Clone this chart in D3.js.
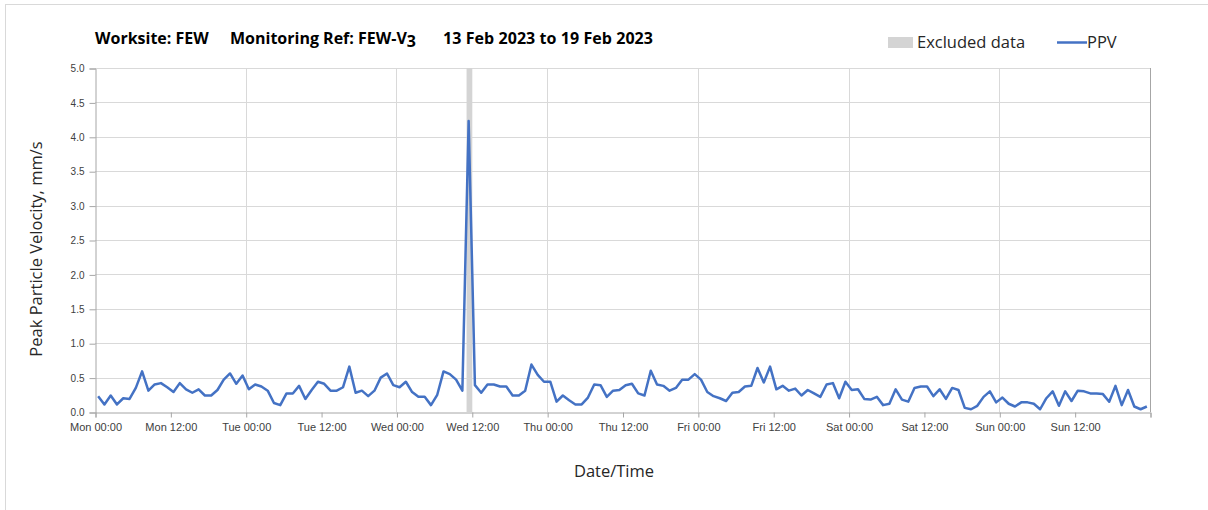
<!DOCTYPE html>
<html>
<head>
<meta charset="utf-8">
<script src="https://cdn.jsdelivr.net/npm/d3@7"></script>
<style>
  html, body { margin: 0; padding: 0; background: #fff; }
  svg { display: block; font-family: "Open Sans", "Noto Sans", sans-serif; }
</style>
</head>
<body>
<svg id="chart" width="1208" height="510"></svg>
<script>
// ---- Data ----
const titleParts = ["Worksite: FEW", "Monitoring Ref: FEW-V", "3", "13 Feb 2023 to 19 Feb 2023"];
const startTime = new Date(2023, 1, 13, 0, 30); // first hourly reading
const ppv = [
  0.23,0.11,0.24,0.11,0.20,0.19,0.35,0.59,0.31,0.40,
  0.42,0.36,0.29,0.42,0.33,0.28,0.33,0.24,0.24,0.32,
  0.47,0.56,0.41,0.53,0.33,0.40,0.37,0.31,0.13,0.10,
  0.27,0.27,0.38,0.19,0.32,0.44,0.41,0.31,0.31,0.36,
  0.66,0.28,0.31,0.23,
  0.31,0.50,0.56,0.39,0.36,0.44,0.29,0.22,0.22,0.10,0.25,0.59,0.55,0.47,0.31,
  4.23,
  0.39,0.28,0.40,0.40,0.37,0.37,0.24,0.24,0.31,0.69,0.54,0.44,0.44,0.15,0.24,0.17,
  0.11,0.11,0.21,0.40,0.39,0.22,0.31,0.32,0.39,0.41,0.27,
  0.24,0.60,0.40,0.38,0.31,0.35,0.47,0.47,0.55,0.47,0.29,0.23,0.20,0.16,0.28,0.29,
  0.37,0.38,0.64,0.43,0.66,0.33,0.38,0.31,0.34,0.24,0.32,0.27,0.22,0.40,0.42,0.20,
  0.44,0.32,0.33,0.19,0.18,0.22,0.10,0.12,0.33,0.18,0.15,
  0.35,0.37,0.37,0.23,0.33,0.19,0.35,0.32,0.06,0.04,0.09,0.22,0.30,0.14,0.21,0.12,
  0.08,0.14,0.14,0.12,0.04,0.20,0.30,0.09,0.30,0.16,0.31,0.30,0.27,0.27,0.26,0.15,
  0.38,0.10,0.32,0.08,0.04,0.08
];
const excludedStart = new Date(2023, 1, 15, 11, 10);
const excludedEnd = new Date(2023, 1, 15, 12, 5);
const domainStart = new Date(2023, 1, 13, 0, 0);
const domainEnd = new Date(2023, 1, 20, 0, 0);
const yTicks = [0, 0.5, 1, 1.5, 2, 2.5, 3, 3.5, 4, 4.5, 5];

const points = ppv.map((v, i) => ({ t: d3.timeHour.offset(startTime, i), v }));

// ---- Layout ----
const svg = d3.select("#chart");
const L = 95, R = 1150, T = 68, B = 412;

const x = d3.scaleTime().domain([domainStart, domainEnd]).range([L, R]);
const y = d3.scaleLinear().domain([0, 5]).range([B, T]);

// outer border (top/left visible)
svg.append("rect").attr("x", 5.5).attr("y", 4.5).attr("width", 1300).attr("height", 600)
  .attr("fill", "none").attr("stroke", "#d9d9d9").attr("stroke-width", 1);

// horizontal gridlines
svg.append("g").selectAll("line").data(yTicks.filter(d => d > 0)).join("line")
  .attr("x1", L).attr("x2", R)
  .attr("y1", d => Math.round(y(d)) + 0.5).attr("y2", d => Math.round(y(d)) + 0.5)
  .attr("stroke", "#d9d9d9").attr("stroke-width", 1);

// vertical gridlines (daily)
const dayTicks = d3.timeDay.range(d3.timeDay.offset(domainStart, 1), d3.timeDay.offset(domainEnd, 1));
svg.append("g").selectAll("line").data(dayTicks).join("line")
  .attr("x1", d => Math.round(x(d)) + 0.5).attr("x2", d => Math.round(x(d)) + 0.5)
  .attr("y1", T).attr("y2", B)
  .attr("stroke", d => +d === +domainEnd ? "#a6a6a6" : "#d9d9d9").attr("stroke-width", 1);

// excluded data band
svg.append("rect")
  .attr("x", x(excludedStart)).attr("width", x(excludedEnd) - x(excludedStart))
  .attr("y", T).attr("height", B - T)
  .attr("fill", "#d4d4d4");

// y axis
const yAxis = d3.axisLeft(y).tickValues(yTicks).tickFormat(d3.format(".1f")).tickSize(6).tickPadding(5);
const gy = svg.append("g").attr("transform", `translate(${L + 0.5},0.5)`).call(yAxis);
gy.select(".domain").attr("stroke", "#a6a6a6");
gy.selectAll(".tick line").attr("stroke", "#a6a6a6");
gy.selectAll(".tick text").attr("fill", "#404040").style("font-size", "10px");

// x axis
const xTickVals = d3.timeHour.every(12).range(domainStart, d3.timeHour.offset(domainEnd, 1));
const xAxis = d3.axisBottom(x).tickValues(xTickVals).tickSizeOuter(0).tickSize(5).tickPadding(6)
  .tickFormat(d => +d === +domainEnd ? "" : d3.timeFormat("%a %H:%M")(d));
const gx = svg.append("g").attr("transform", `translate(0.5,${B + 0.5})`).call(xAxis);
gx.select(".domain").attr("stroke", "#a6a6a6");
gx.selectAll(".tick line").attr("stroke", "#a6a6a6");
gx.selectAll(".tick text").attr("fill", "#404040").style("font-size", "11px");

// PPV line
svg.append("path").datum(points)
  .attr("fill", "none").attr("stroke", "#4472c4").attr("stroke-width", 2.5)
  .attr("stroke-linejoin", "round")
  .attr("d", d3.line().x(d => x(d.t)).y(d => y(d.v)));

// title
const tStyle = s => s.attr("fill", "#000").style("font-size", "16px").style("font-weight", "bold");
svg.append("text").attr("x", 95).attr("y", 44).call(tStyle).text(titleParts[0]);
const t2 = svg.append("text").attr("x", 230).attr("y", 44).call(tStyle);
t2.append("tspan").text(titleParts[1]);
t2.append("tspan").attr("dy", 3).text(titleParts[2]);
svg.append("text").attr("x", 443).attr("y", 44).call(tStyle)
  .attr("textLength", 210).attr("lengthAdjust", "spacing").text(titleParts[3]);

// legend
svg.append("rect").attr("x", 888).attr("y", 37).attr("width", 25).attr("height", 11).attr("fill", "#d4d4d4");
svg.append("text").attr("x", 917).attr("y", 48).attr("fill", "#262626").style("font-size", "16.5px").text("Excluded data");
svg.append("line").attr("x1", 1057).attr("x2", 1087).attr("y1", 42.5).attr("y2", 42.5)
  .attr("stroke", "#4472c4").attr("stroke-width", 2.5);
svg.append("text").attr("x", 1087).attr("y", 48).attr("fill", "#262626").style("font-size", "16.5px").text("PPV");

// axis titles
svg.append("text").attr("transform", `translate(42,249) rotate(-90)`)
  .attr("text-anchor", "middle").attr("fill", "#262626").style("font-size", "16.5px")
  .text("Peak Particle Velocity, mm/s");
svg.append("text").attr("x", 614).attr("y", 477).attr("text-anchor", "middle")
  .attr("fill", "#262626").style("font-size", "16.5px").text("Date/Time");
</script>
</body>
</html>
